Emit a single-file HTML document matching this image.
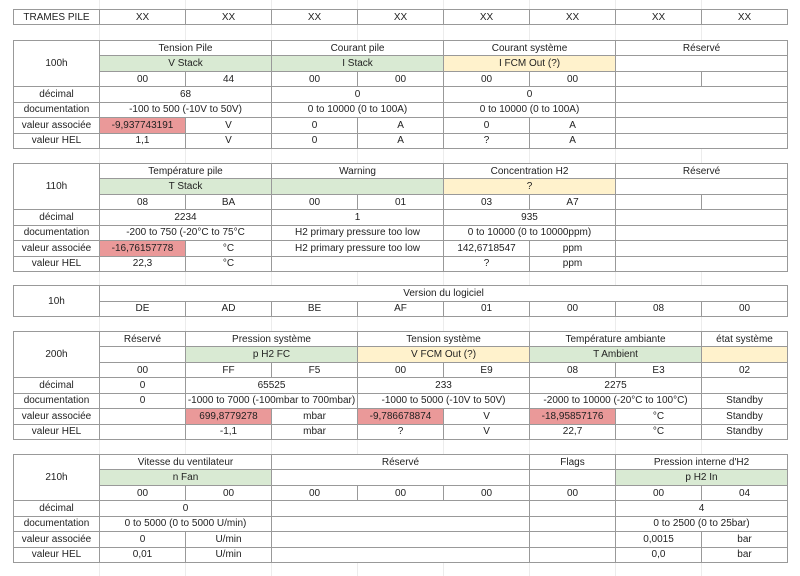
<!DOCTYPE html>
<html><head><meta charset="utf-8"><style>
html,body{margin:0;padding:0;background:#fff;width:800px;height:576px;overflow:hidden;position:relative}
.vl{position:absolute;top:0;height:576px;width:1px;background:#ececec}
table{position:absolute;left:13px;width:775px;border-collapse:collapse;table-layout:fixed;font-family:"Liberation Sans",Arial,sans-serif;font-size:10px;color:#222;background:#fff}
td{border:1px solid #999;text-align:center;padding:0;white-space:nowrap;overflow:hidden;line-height:13px}
.g{background:#d9ead3}.y{background:#fff2cc}.r{background:#ea9999}
.s7{height:108px}.s7 tr{height:15.43px}
</style></head><body>
<div class="vl" style="left:99px"></div><div class="vl" style="left:185px"></div><div class="vl" style="left:271px"></div><div class="vl" style="left:357px"></div><div class="vl" style="left:443px"></div><div class="vl" style="left:529px"></div><div class="vl" style="left:615px"></div><div class="vl" style="left:701px"></div>

<table style="top:9px;height:16px"><colgroup><col span="9" style="width:86px"></colgroup>
<tr><td>TRAMES PILE</td><td>XX</td><td>XX</td><td>XX</td><td>XX</td><td>XX</td><td>XX</td><td>XX</td><td>XX</td></tr></table>

<table class="s7" style="top:40px"><colgroup><col span="9" style="width:86px"></colgroup>
<tr><td rowspan="3">100h</td><td colspan="2">Tension Pile</td><td colspan="2">Courant pile</td><td colspan="2">Courant système</td><td colspan="2">Réservé</td></tr>
<tr><td colspan="2" class="g">V Stack</td><td colspan="2" class="g">I Stack</td><td colspan="2" class="y">I FCM Out (?)</td><td colspan="2"></td></tr>
<tr><td>00</td><td>44</td><td>00</td><td>00</td><td>00</td><td>00</td><td></td><td></td></tr>
<tr><td>décimal</td><td colspan="2">68</td><td colspan="2">0</td><td colspan="2">0</td><td colspan="2"></td></tr>
<tr><td>documentation</td><td colspan="2">-100 to 500 (-10V to 50V)</td><td colspan="2">0 to 10000 (0 to 100A)</td><td colspan="2">0 to 10000 (0 to 100A)</td><td colspan="2"></td></tr>
<tr><td>valeur associée</td><td class="r">-9,937743191</td><td>V</td><td>0</td><td>A</td><td>0</td><td>A</td><td colspan="2"></td></tr>
<tr><td>valeur HEL</td><td>1,1</td><td>V</td><td>0</td><td>A</td><td>?</td><td>A</td><td colspan="2"></td></tr>
</table>

<table class="s7" style="top:163px"><colgroup><col span="9" style="width:86px"></colgroup>
<tr><td rowspan="3">110h</td><td colspan="2">Température pile</td><td colspan="2">Warning</td><td colspan="2">Concentration H2</td><td colspan="2">Réservé</td></tr>
<tr><td colspan="2" class="g">T Stack</td><td colspan="2" class="g"></td><td colspan="2" class="y">?</td><td colspan="2"></td></tr>
<tr><td>08</td><td>BA</td><td>00</td><td>01</td><td>03</td><td>A7</td><td></td><td></td></tr>
<tr><td>décimal</td><td colspan="2">2234</td><td colspan="2">1</td><td colspan="2">935</td><td colspan="2"></td></tr>
<tr><td>documentation</td><td colspan="2">-200 to 750 (-20°C to 75°C</td><td colspan="2">H2 primary pressure too low</td><td colspan="2">0 to 10000 (0 to 10000ppm)</td><td colspan="2"></td></tr>
<tr><td>valeur associée</td><td class="r">-16,76157778</td><td>°C</td><td colspan="2">H2 primary pressure too low</td><td>142,6718547</td><td>ppm</td><td colspan="2"></td></tr>
<tr><td>valeur HEL</td><td>22,3</td><td>°C</td><td colspan="2"></td><td>?</td><td>ppm</td><td colspan="2"></td></tr>
</table>

<table style="top:285px;height:31px"><colgroup><col span="9" style="width:86px"></colgroup>
<tr style="height:15.5px"><td rowspan="2">10h</td><td colspan="8">Version du logiciel</td></tr>
<tr style="height:15.5px"><td>DE</td><td>AD</td><td>BE</td><td>AF</td><td>01</td><td>00</td><td>08</td><td>00</td></tr>
</table>

<table class="s7" style="top:331px"><colgroup><col span="9" style="width:86px"></colgroup>
<tr><td rowspan="3">200h</td><td>Réservé</td><td colspan="2">Pression système</td><td colspan="2">Tension système</td><td colspan="2">Température ambiante</td><td>état système</td></tr>
<tr><td></td><td colspan="2" class="g">p H2 FC</td><td colspan="2" class="y">V FCM Out (?)</td><td colspan="2" class="g">T Ambient</td><td class="y"></td></tr>
<tr><td>00</td><td>FF</td><td>F5</td><td>00</td><td>E9</td><td>08</td><td>E3</td><td>02</td></tr>
<tr><td>décimal</td><td>0</td><td colspan="2">65525</td><td colspan="2">233</td><td colspan="2">2275</td><td></td></tr>
<tr><td>documentation</td><td>0</td><td colspan="2">-1000 to 7000 (-100mbar to 700mbar)</td><td colspan="2">-1000 to 5000 (-10V to 50V)</td><td colspan="2">-2000 to 10000 (-20°C to 100°C)</td><td>Standby</td></tr>
<tr><td>valeur associée</td><td></td><td class="r">699,8779278</td><td>mbar</td><td class="r">-9,786678874</td><td>V</td><td class="r">-18,95857176</td><td>°C</td><td>Standby</td></tr>
<tr><td>valeur HEL</td><td></td><td>-1,1</td><td>mbar</td><td>?</td><td>V</td><td>22,7</td><td>°C</td><td>Standby</td></tr>
</table>

<table class="s7" style="top:454px"><colgroup><col span="9" style="width:86px"></colgroup>
<tr><td rowspan="3">210h</td><td colspan="2">Vitesse du ventilateur</td><td colspan="3">Réservé</td><td>Flags</td><td colspan="2">Pression interne d'H2</td></tr>
<tr><td colspan="2" class="g">n Fan</td><td colspan="3"></td><td></td><td colspan="2" class="g">p H2 In</td></tr>
<tr><td>00</td><td>00</td><td>00</td><td>00</td><td>00</td><td>00</td><td>00</td><td>04</td></tr>
<tr><td>décimal</td><td colspan="2">0</td><td colspan="3"></td><td></td><td colspan="2">4</td></tr>
<tr><td>documentation</td><td colspan="2">0 to 5000 (0 to 5000 U/min)</td><td colspan="3"></td><td></td><td colspan="2">0 to 2500 (0 to 25bar)</td></tr>
<tr><td>valeur associée</td><td>0</td><td>U/min</td><td colspan="3"></td><td></td><td>0,0015</td><td>bar</td></tr>
<tr><td>valeur HEL</td><td>0,01</td><td>U/min</td><td colspan="3"></td><td></td><td>0,0</td><td>bar</td></tr>
</table>
</body></html>
